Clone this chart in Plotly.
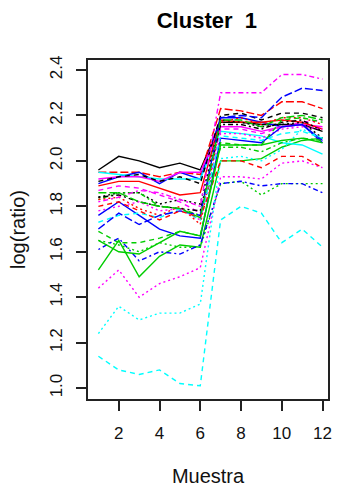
import plotly.graph_objects as go

# Sample index on the x axis
muestra = list(range(1, 13))

# log(ratio) profiles for the genes in cluster 1
gen01 = [1.96, 2.02, 2.00, 1.97, 1.99, 1.96, 2.17, 2.17, 2.16, 2.16, 2.16, 2.13]
gen02 = [1.95, 1.95, 1.95, 1.93, 1.95, 1.94, 2.23, 2.22, 2.20, 2.26, 2.26, 2.23]
gen03 = [1.52, 1.65, 1.49, 1.58, 1.63, 1.62, 2.00, 2.00, 2.01, 2.06, 2.09, 2.10]
gen04 = [1.90, 1.93, 1.95, 1.90, 1.95, 1.92, 2.19, 2.19, 2.17, 2.15, 2.16, 2.08]
gen05 = [1.95, 1.94, 1.93, 1.92, 1.92, 1.92, 2.13, 2.12, 2.11, 2.08, 2.07, 2.03]
gen06 = [1.92, 1.93, 1.93, 1.91, 1.95, 1.95, 2.15, 2.15, 2.13, 2.15, 2.16, 2.15]
gen07 = [1.91, 1.93, 1.94, 1.91, 1.93, 1.90, 2.20, 2.21, 2.18, 2.21, 2.21, 2.19]
gen08 = [1.89, 1.91, 1.91, 1.88, 1.85, 1.86, 2.18, 2.17, 2.17, 2.18, 2.17, 2.14]
gen09 = [1.87, 1.89, 1.88, 1.85, 1.82, 1.77, 2.14, 2.14, 2.12, 2.15, 2.17, 2.18]
gen10 = [1.84, 1.86, 1.86, 1.81, 1.83, 1.81, 2.18, 2.17, 2.15, 2.16, 2.17, 2.10]
gen11 = [1.83, 1.86, 1.86, 1.80, 1.79, 1.76, 2.06, 2.06, 2.04, 2.08, 2.10, 2.09]
gen12 = [1.83, 1.84, 1.79, 1.76, 1.80, 1.72, 2.17, 2.19, 2.16, 2.19, 2.19, 2.16]
gen13 = [1.84, 1.85, 1.82, 1.80, 1.79, 1.78, 2.16, 2.16, 2.14, 2.17, 2.18, 2.13]
gen14 = [1.78, 1.80, 1.82, 1.78, 1.79, 1.74, 2.12, 2.12, 2.10, 2.14, 2.15, 2.14]
gen15 = [1.76, 1.82, 1.76, 1.70, 1.67, 1.66, 2.10, 2.09, 2.08, 2.15, 2.16, 2.09]
gen16 = [1.73, 1.76, 1.77, 1.75, 1.79, 1.74, 2.11, 2.10, 2.09, 2.12, 2.13, 2.10]
gen17 = [1.70, 1.77, 1.72, 1.76, 1.78, 1.76, 2.19, 2.20, 2.19, 2.28, 2.32, 2.31]
gen18 = [1.69, 1.64, 1.64, 1.66, 1.69, 1.67, 2.08, 2.07, 2.07, 2.18, 2.19, 2.17]
gen19 = [1.65, 1.63, 1.60, 1.64, 1.62, 1.62, 1.90, 1.91, 1.85, 1.90, 1.90, 1.90]
gen20 = [1.61, 1.66, 1.56, 1.60, 1.59, 1.63, 1.90, 1.91, 1.89, 1.90, 1.90, 1.86]
gen21 = [1.44, 1.52, 1.40, 1.46, 1.49, 1.53, 1.93, 1.93, 1.92, 1.99, 2.00, 1.97]
gen22 = [1.24, 1.36, 1.30, 1.33, 1.33, 1.37, 2.01, 2.02, 2.00, 2.05, 2.14, 2.10]
gen23 = [1.14, 1.08, 1.06, 1.08, 1.02, 1.01, 1.74, 1.80, 1.77, 1.64, 1.70, 1.62]
gen24 = [1.82, 1.84, 1.87, 1.86, 1.83, 1.80, 2.30, 2.30, 2.30, 2.38, 2.38, 2.36]
gen25 = [1.80, 1.82, 1.78, 1.74, 1.78, 1.75, 2.00, 2.00, 1.97, 2.02, 2.02, 1.97]
gen26 = [1.86, 1.86, 1.82, 1.80, 1.79, 1.75, 2.18, 2.18, 2.15, 2.19, 2.20, 2.18]
gen27 = [1.65, 1.60, 1.59, 1.64, 1.69, 1.67, 2.07, 2.07, 2.07, 2.09, 2.10, 2.08]

perfiles = [gen01, gen02, gen03, gen04, gen05, gen06, gen07, gen08, gen09,
            gen10, gen11, gen12, gen13, gen14, gen15, gen16, gen17, gen18,
            gen19, gen20, gen21, gen22, gen23, gen24, gen25, gen26, gen27]

# R base palette and line types
NEGRO, ROJO, VERDE, AZUL, CIAN, MAGENTA = ("#000000", "#FF0000", "#00CD00",
                                           "#0000FF", "#00FFFF", "#FF00FF")
SOLIDA = "solid"
GUION = "5px,4px"
PUNTO = "2px,3px"
PUNTOGUION = "2px,3px,5px,3px"
GUIONLARGO = "8px,3px"

estilos = [
    (NEGRO, SOLIDA), (ROJO, GUIONLARGO), (VERDE, SOLIDA), (AZUL, SOLIDA),
    (CIAN, SOLIDA), (MAGENTA, SOLIDA), (NEGRO, GUION), (ROJO, SOLIDA),
    (MAGENTA, GUION), (NEGRO, PUNTO), (VERDE, PUNTOGUION), (ROJO, PUNTO),
    (NEGRO, PUNTOGUION), (MAGENTA, PUNTO), (AZUL, SOLIDA), (CIAN, GUION),
    (AZUL, GUIONLARGO), (VERDE, GUION), (VERDE, PUNTO), (AZUL, PUNTOGUION),
    (MAGENTA, PUNTO), (CIAN, PUNTO), (CIAN, GUION), (MAGENTA, PUNTOGUION),
    (ROJO, GUION), (VERDE, GUIONLARGO), (VERDE, SOLIDA),
]

fig = go.Figure()
for valores, (color, trazo) in zip(perfiles, estilos):
    fig.add_trace(go.Scatter(
        x=muestra, y=valores, mode="lines",
        line=dict(color=color, width=1.4, dash=trazo),
        showlegend=False, hoverinfo="skip",
    ))

fuente = dict(family="Liberation Sans, Arial, sans-serif", size=17, color="#111")

fig.update_layout(
    width=338, height=490,
    margin=dict(l=88, r=6, t=60, b=89),
    paper_bgcolor="white", plot_bgcolor="white",
    font=fuente,
    title=dict(text="<b>Cluster\u00a0 1</b>", x=0.612, xanchor="center",
               y=1 - 20 / 490, yanchor="middle", yref="container",
               font=dict(family="Liberation Sans, Arial, sans-serif", size=22, color="#000")),
)

fig.update_xaxes(
    range=[0.49, 12.27], tickvals=[2, 4, 6, 8, 10, 12],
    ticks="outside", ticklen=10, tickwidth=1.5, tickcolor="#222",
    showline=True, linecolor="#222", linewidth=1.5, mirror=True,
    showgrid=False, zeroline=False, ticklabelstandoff=8,
    title=dict(text="Muestra", standoff=27),
)
fig.update_yaxes(
    range=[0.952, 2.444], tickvals=[1.0, 1.2, 1.4, 1.6, 1.8, 2.0, 2.2, 2.4],
    tickformat=".1f", tickangle=-90,
    ticks="outside", ticklen=10, tickwidth=1.5, tickcolor="#222",
    showline=True, linecolor="#222", linewidth=1.5, mirror=True,
    showgrid=False, zeroline=False, ticklabelstandoff=7,
    title=dict(text="log(ratio)", standoff=16),
)

fig.write_html("out.html")
